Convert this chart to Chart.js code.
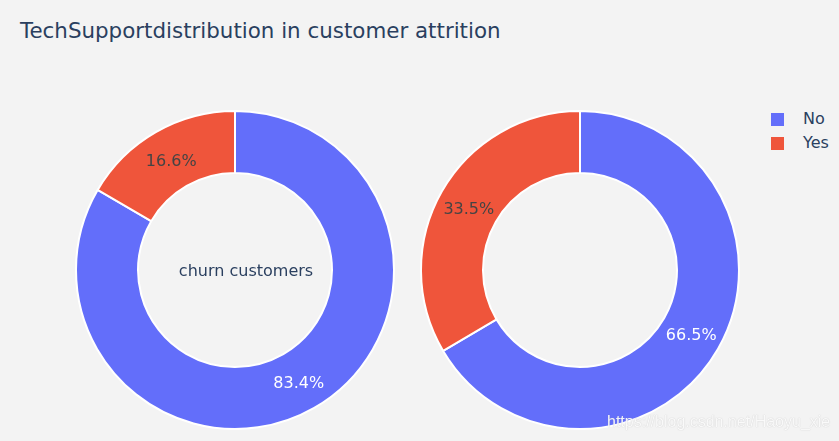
<!DOCTYPE html>
<html>
<head>
<meta charset="utf-8">
<script src="https://cdn.jsdelivr.net/npm/chart.js@4/dist/chart.umd.min.js"></script>
<style>
  html, body { margin: 0; padding: 0; }
  body { width: 839px; height: 441px; background: #f3f3f3; position: relative; overflow: hidden; font-family: 'DejaVu Sans', Verdana, sans-serif; }
  .title { position: absolute; left: 20px; top: 20px; font-size: 21.4px; line-height: 22px; color: #2a3f5f; white-space: nowrap; }
  .pie { position: absolute; top: 110px; width: 320px; height: 320px; }
  #legend { position: absolute; left: 771px; top: 113px; }
  .item { position: relative; height: 24px; font-size: 16px; color: #2a3f5f; }
  .item .sw { position: absolute; left: 0; top: 0; width: 13px; height: 13px; }
  .item .tx { position: absolute; left: 32px; top: -3px; line-height: 18px; white-space: nowrap; }
  .mark { position: absolute; left: 607px; top: 413px; font-family: 'Liberation Sans', Arial, sans-serif; font-size: 16px; color: rgba(255,255,255,0.9); text-shadow: 0 0 1px rgba(150,150,150,0.6); white-space: nowrap; }
</style>
</head>
<body>
<div class="title">TechSupportdistribution in customer attrition</div>
<div class="pie" style="left:75px"><canvas id="churn"></canvas></div>
<div class="pie" style="left:420px"><canvas id="nonChurn"></canvas></div>
<div id="legend"></div>
<div class="mark">https://blog.csdn.net/Haoyu_xie</div>
<script>
const labels = ['No', 'Yes'];
const churnValues = [83.4, 16.6];
const nonChurnValues = [66.5, 33.5];
const colors = ['#636efa', '#ef553b'];
const textColors = ['#ffffff', '#444444'];

// percent text in the middle of each ring slice, plus the optional hole caption
const sliceLabels = {
  id: 'sliceLabels',
  afterDatasetsDraw(chart, args, opts) {
    const { ctx } = chart;
    const meta = chart.getDatasetMeta(0);
    const data = chart.data.datasets[0].data;
    const total = data.reduce((a, b) => a + b, 0);
    ctx.save();
    ctx.font = '16px "DejaVu Sans"';
    ctx.textAlign = 'center';
    ctx.textBaseline = 'alphabetic';
    meta.data.forEach((arc, i) => {
      const p = arc.tooltipPosition();
      ctx.fillStyle = textColors[i];
      ctx.fillText((data[i] / total * 100).toFixed(1) + '%', p.x, p.y + 7);
    });
    if (opts.center) {
      const arc = meta.data[0];
      ctx.fillStyle = '#2a3f5f';
      ctx.fillText(opts.center, arc.x + 11, arc.y + 6);
    }
    ctx.restore();
  },
};

function createPie(ctxId, values, centerText) {
  return new Chart(document.getElementById(ctxId), {
    type: 'doughnut',
    data: {
      labels,
      datasets: [{
        data: values,
        backgroundColor: colors,
        borderColor: '#ffffff',
        borderWidth: 2,
      }],
    },
    options: {
      responsive: true,
      maintainAspectRatio: false,
      animation: false,
      cutout: '61%',
      layout: { padding: 0 },
      plugins: {
        legend: { display: false },
        tooltip: { enabled: false },
        sliceLabels: { center: centerText },
      },
    },
    plugins: [sliceLabels],
  });
}

createPie('churn', churnValues, 'churn customers');
createPie('nonChurn', nonChurnValues, null);

const legendEl = document.getElementById('legend');
labels.forEach((label, i) => {
  const item = document.createElement('div');
  item.className = 'item';
  item.innerHTML = '<span class="sw" style="background:' + colors[i] + '"></span><span class="tx">' + label + '</span>';
  legendEl.appendChild(item);
});
</script>
</body>
</html>
